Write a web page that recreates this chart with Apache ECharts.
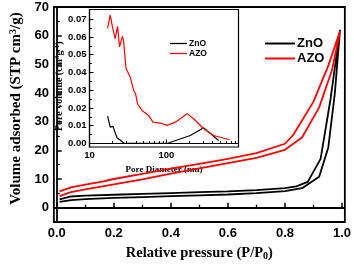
<!DOCTYPE html>
<html><head><meta charset="utf-8">
<script src="https://cdn.jsdelivr.net/npm/echarts@6/dist/echarts.min.js"></script>
<style>html,body{margin:0;padding:0;background:#fff}#c{width:354px;height:266px}</style>
</head><body><div id="c"></div>
<script>
// Main plot ticks
const xTicks = [0, 0.2, 0.4, 0.6, 0.8, 1.0];
const xMinor = [0.1, 0.3, 0.5, 0.7, 0.9];
const yTicks = [0, 10, 20, 30, 40, 50, 60, 70];
const yMinor = [5, 15, 25, 35, 45, 55, 65];
// Inset ticks
const insetYTicks = [0, 0.01, 0.02, 0.03, 0.04, 0.05, 0.06, 0.07];
const insetYMinor = [0.005, 0.015, 0.025, 0.035, 0.045, 0.055, 0.065];
const insetXMinor = [20, 30, 40, 50, 60, 70, 80, 90, 200, 300, 400, 500, 600, 700, 800];

// Isotherms (P/P0, cm3/g STP)
const znoAdsP = [0.01, 0.05, 0.1, 0.2, 0.3, 0.4, 0.5, 0.6, 0.7, 0.8, 0.86, 0.92, 0.952, 0.975, 0.993];
const znoAdsV = [2.0, 2.6, 3.0, 3.4, 3.7, 4.0, 4.3, 4.6, 5.1, 5.8, 6.8, 10.8, 21, 40, 62];
const znoDesP = [0.993, 0.96, 0.925, 0.88, 0.84, 0.8, 0.7, 0.6, 0.5, 0.4, 0.3, 0.2, 0.1, 0.05, 0.01];
const znoDesV = [62, 38, 17, 9.0, 7.4, 6.8, 6.1, 5.7, 5.4, 5.1, 4.8, 4.5, 4.2, 3.9, 2.9];
const azoAdsP = [0.01, 0.05, 0.1, 0.16, 0.2, 0.3, 0.4, 0.5, 0.6, 0.7, 0.8, 0.86, 0.92, 0.965, 0.993];
const azoAdsV = [4.0, 5.4, 6.4, 7.4, 8.1, 9.9, 11.9, 13.7, 15.5, 17.4, 20.2, 24.5, 35, 48, 61.5];
const azoDesP = [0.993, 0.95, 0.9, 0.83, 0.8, 0.7, 0.6, 0.5, 0.4, 0.3, 0.2, 0.16, 0.1, 0.05, 0.01];
const azoDesV = [61.5, 49, 37, 25.5, 22.3, 19.0, 17.0, 15.3, 13.6, 11.8, 10.0, 9.1, 8.0, 7.1, 5.7];

// Pore size distribution (nm, cm3/g)
const azoPoreD = [17.2, 18.6, 19.9, 21.6, 23.2, 24.6, 26.7, 27.7, 29.9, 33.9, 37.5, 39.8, 42.2, 48.2, 58.8, 67, 83.5, 101.9, 131, 186, 227, 306, 413, 667];
const azoPoreV = [0.0648, 0.0723, 0.0657, 0.0591, 0.066, 0.0544, 0.0604, 0.0582, 0.0422, 0.0374, 0.030, 0.028, 0.0224, 0.0186, 0.0158, 0.012, 0.0115, 0.0102, 0.012, 0.0168, 0.0139, 0.0083, 0.0045, 0.0021];
const znoPoreD = [17.2, 18.6, 20.2, 21, 22.8, 25.6, 28.3, 101.8, 205, 306, 480];
const znoPoreV = [0.0154, 0.0092, 0.0096, 0.0102, 0.0032, 0.0017, 0, 0, 0.0045, 0.0088, 0.0017];

const zip = (a, b) => a.map((v, i) => [v, b[i]]);
const sans = 'Liberation Sans';
const serif = 'Liberation Serif';
const lblMain = {fontFamily: sans, fontWeight: 'bold', fontSize: 13, color: '#000'};
const lblInset = {fontFamily: sans, fontWeight: 'bold', fontSize: 9.5, color: '#000'};
const blank = {show: false};

const chart = echarts.init(document.getElementById('c'), null, {renderer: 'canvas'});
chart.setOption({
  animation: false,
  backgroundColor: '#fff',
  grid: [
    {left: 50.5, top: 7, width: 294.5, height: 218, show: true, borderColor: '#000', borderWidth: 1.8, backgroundColor: 'transparent'},
    {left: 89.5, top: 9.5, width: 149, height: 137.5, show: true, borderColor: '#000', borderWidth: 1.2, backgroundColor: '#fff'}
  ],
  legend: [
    {data: ['ZnO', 'AZO'], orient: 'vertical', left: 260, top: 32, itemWidth: 30, itemHeight: 2, itemGap: 2, icon: 'rect',
     selectedMode: false, textStyle: {fontFamily: sans, fontWeight: 'bold', fontSize: 13, color: '#000', padding: [0, 0, 0, -3]}},
    {data: ['ZnO ', 'AZO '], orient: 'vertical', left: 165, top: 34, itemWidth: 17, itemHeight: 1.3, itemGap: 1, icon: 'rect',
     selectedMode: false, formatter: n => n.trim(),
     textStyle: {fontFamily: sans, fontWeight: 'bold', fontSize: 8.5, color: '#000', padding: [0, 0, 0, -3]}}
  ],
  xAxis: [
    {gridIndex: 0, type: 'value', min: -0.01, max: 1.01, position: 'bottom',
     axisLine: {lineStyle: {color: '#000', width: 1.8}},
     axisTick: {inside: true, length: 5, customValues: xTicks, lineStyle: {color: '#000', width: 1.5}},
     axisLabel: Object.assign({customValues: xTicks, formatter: v => v.toFixed(1), margin: 5}, lblMain),
     splitLine: blank,
     name: 'Relative pressure (P/P{s|0})', nameLocation: 'middle', nameGap: 23,
     nameTextStyle: {fontFamily: serif, fontWeight: 'bold', fontSize: 14.5, color: '#000',
       rich: {s: {fontFamily: serif, fontWeight: 'bold', fontSize: 10, color: '#000', verticalAlign: 'bottom', padding: [6, 0, 0, 0]}}}},
    {gridIndex: 0, type: 'value', min: -0.01, max: 1.01, position: 'bottom',
     axisLine: blank, axisLabel: blank, splitLine: blank,
     axisTick: {inside: true, length: 3, customValues: xMinor, lineStyle: {color: '#000', width: 1.3}}},
    {gridIndex: 1, type: 'log', logBase: 10, min: 10, max: 870, position: 'bottom',
     axisLine: {lineStyle: {color: '#000', width: 1.2}},
     axisTick: {inside: true, length: 4, lineStyle: {color: '#000', width: 1}},
     axisLabel: Object.assign({margin: 3, showMaxLabel: false}, lblInset), splitLine: blank, minorTick: blank,
     name: 'Pore Diameter (nm)', nameLocation: 'middle', nameGap: 7.5,
     nameTextStyle: {fontFamily: serif, fontWeight: 'bold', fontSize: 9, color: '#000'}},
    {gridIndex: 1, type: 'value', min: 1, max: Math.log10(870), position: 'bottom',
     axisLine: blank, axisLabel: blank, splitLine: blank,
     axisTick: {inside: true, length: 2.5, customValues: insetXMinor.map(Math.log10), lineStyle: {color: '#000', width: 0.9}}}
  ],
  yAxis: [
    {gridIndex: 0, type: 'value', min: -5, max: 70, position: 'left',
     axisLine: {lineStyle: {color: '#000', width: 1.8}},
     axisTick: {inside: true, length: 5, customValues: yTicks, lineStyle: {color: '#000', width: 1.5}},
     axisLabel: Object.assign({customValues: yTicks, margin: 5}, lblMain),
     splitLine: blank,
     name: 'Volume adsorbed (STP cm{p|3}/g)', nameLocation: 'middle', nameGap: 29,
     nameTextStyle: {fontFamily: serif, fontWeight: 'bold', fontSize: 15, color: '#000', padding: [0, 0, 0, 12],
       rich: {p: {fontFamily: serif, fontWeight: 'bold', fontSize: 10, color: '#000', verticalAlign: 'top', padding: [0, 0, 6, 0]}}}},
    {gridIndex: 0, type: 'value', min: -5, max: 70, position: 'left',
     axisLine: blank, axisLabel: blank, splitLine: blank,
     axisTick: {inside: true, length: 3, customValues: yMinor, lineStyle: {color: '#000', width: 1.3}}},
    {gridIndex: 1, type: 'value', min: -0.002, max: 0.0755, position: 'left',
     axisLine: {lineStyle: {color: '#000', width: 1.2}},
     axisTick: {inside: true, length: 4, customValues: insetYTicks, lineStyle: {color: '#000', width: 1}},
     axisLabel: Object.assign({customValues: insetYTicks, formatter: v => v.toFixed(2), margin: 3}, lblInset),
     splitLine: blank,
     name: 'Pore volume (cm{p|3}g{p|-1})', nameLocation: 'middle', nameGap: 21,
     nameTextStyle: {fontFamily: serif, fontWeight: 'bold', fontSize: 10, color: '#000', padding: [0, 16, 0, 0],
       rich: {p: {fontFamily: serif, fontWeight: 'bold', fontSize: 7, color: '#000', verticalAlign: 'top', padding: [0, 0, 4, 0]}}}},
    {gridIndex: 1, type: 'value', min: -0.002, max: 0.0755, position: 'left',
     axisLine: blank, axisLabel: blank, splitLine: blank,
     axisTick: {inside: true, length: 2.5, customValues: insetYMinor, lineStyle: {color: '#000', width: 0.9}}}
  ],
  series: [
    {name: 'ZnO', type: 'line', xAxisIndex: 0, yAxisIndex: 0, symbol: 'none', silent: true,
     data: zip(znoAdsP.concat(znoDesP), znoAdsV.concat(znoDesV)),
     lineStyle: {color: '#000', width: 1.8}, itemStyle: {color: '#000'}},
    {name: 'AZO', type: 'line', xAxisIndex: 0, yAxisIndex: 0, symbol: 'none', silent: true,
     data: zip(azoAdsP.concat(azoDesP), azoAdsV.concat(azoDesV)),
     lineStyle: {color: '#ff0000', width: 1.8}, itemStyle: {color: '#ff0000'}},
    {name: 'ZnO ', type: 'line', xAxisIndex: 2, yAxisIndex: 2, symbol: 'none', silent: true,
     data: zip(znoPoreD, znoPoreV), lineStyle: {color: '#000', width: 1.2}, itemStyle: {color: '#000'}},
    {name: 'AZO ', type: 'line', xAxisIndex: 2, yAxisIndex: 2, symbol: 'none', silent: true,
     data: zip(azoPoreD, azoPoreV), lineStyle: {color: '#ff0000', width: 1.2}, itemStyle: {color: '#ff0000'}}
  ]
});
</script></body></html>
